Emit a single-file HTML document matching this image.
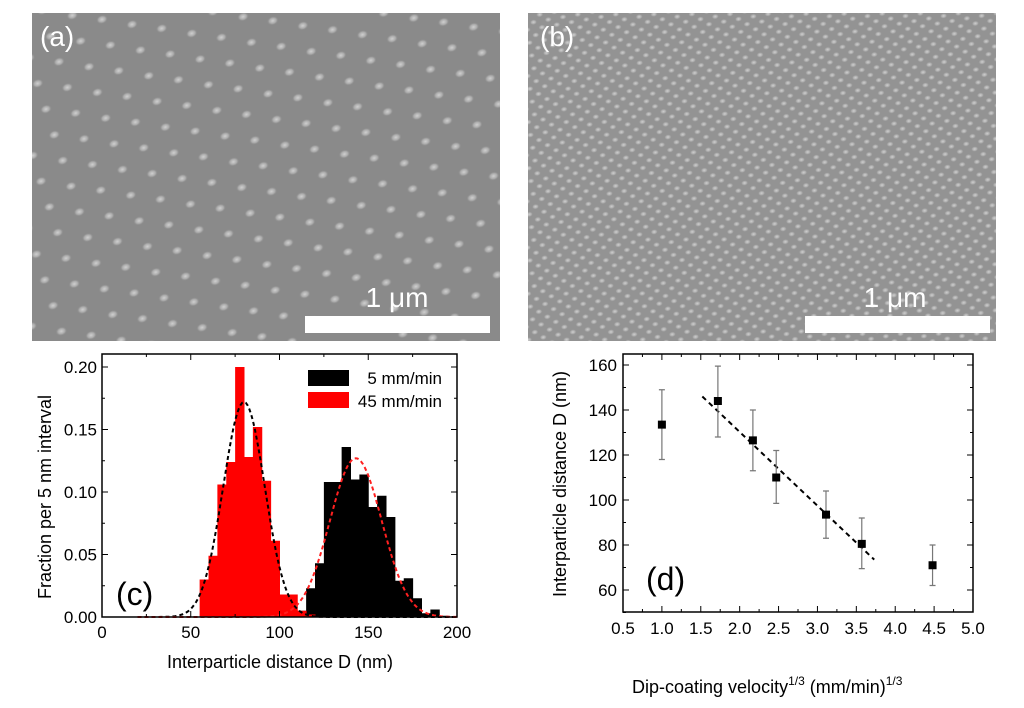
<!DOCTYPE html>
<html><head><meta charset="utf-8"><style>
body{margin:0;background:#fff;width:1024px;height:703px;overflow:hidden;font-family:"Liberation Sans",sans-serif}
svg text{font-family:"Liberation Sans",sans-serif}
</style></head><body>
<svg width="1024" height="703" xmlns="http://www.w3.org/2000/svg">
<defs>
<radialGradient id="dg"><stop offset="0" stop-color="#d0d0d0"/><stop offset="0.6" stop-color="#aaaaaa"/><stop offset="1" stop-color="#8a8a8a" stop-opacity="0"/></radialGradient>
<pattern id="pa" width="54" height="27" patternUnits="userSpaceOnUse" patternTransform="rotate(-18)">
<ellipse cx="10" cy="10" rx="6" ry="4.5" fill="url(#dg)"/><ellipse cx="37" cy="23" rx="6" ry="4.5" fill="url(#dg)"/></pattern>
<pattern id="pb" width="15" height="13" patternUnits="userSpaceOnUse" patternTransform="rotate(-10)">
<ellipse cx="4" cy="4" rx="4" ry="3" fill="url(#dg)"/><ellipse cx="11.5" cy="10.5" rx="4" ry="3" fill="url(#dg)"/></pattern>
</defs>
<g>
<rect x="32" y="13" width="468" height="328" fill="#8a8a8a"/>
<rect x="32" y="13" width="468" height="328" fill="url(#pa)"/>
<text x="40" y="46" font-size="28" fill="#fff">(a)</text>
<text x="397" y="307" font-size="28" fill="#fff" text-anchor="middle">1 μm</text>
<rect x="305" y="316" width="185" height="17" fill="#fff"/>
</g>
<g>
<rect x="528" y="13" width="468" height="328" fill="#939393"/>
<rect x="528" y="13" width="468" height="328" fill="url(#pb)"/>
<text x="540" y="46" font-size="28" fill="#fff">(b)</text>
<text x="895" y="307" font-size="28" fill="#fff" text-anchor="middle">1 μm</text>
<rect x="805" y="316" width="185" height="17" fill="#fff"/>
</g>
<g id="c"></g>
<g id="d"></g>
</svg>
<script>
const NS="http://www.w3.org/2000/svg";
function mk(p,t,a,txt){const e=document.createElementNS(NS,t);for(const k in a)e.setAttribute(k,a[k]);if(txt!==undefined)e.textContent=txt;p.appendChild(e);return e;}
// ---- chart c data ----
const redBinStarts=[55,60,65,70,75,80,85,90,95,100,105,110,115];
const redValues=[0.030,0.049,0.106,0.124,0.200,0.128,0.152,0.109,0.061,0.018,0.018,0.005,0.002];
const blackBinStarts=[110,115,120,125,130,135,140,145,150,155,160,165,170,175,180,185,190];
const blackValues=[0.005,0.023,0.043,0.108,0.108,0.136,0.110,0.114,0.088,0.097,0.080,0.029,0.031,0.015,0.003,0.006,0.001];
const cXTicks=[0,50,100,150,200];
const cYTicks=[0,0.05,0.10,0.15,0.20];
const fitRed=[80,0.172,11.7];
const fitBlack=[143,0.127,14.6];
// ---- chart d data ----
const dX=[1.0,1.72,2.17,2.47,3.11,3.57,4.48];
const dY=[133.5,144,126.5,110,93.5,80.5,71];
const dLo=[118,128,113,98.5,83,69.5,62];
const dHi=[149,159.5,140,122,104,92,80];
const dFit=[[1.52,146],[3.73,73.5]];
const dXTicks=[0.5,1.0,1.5,2.0,2.5,3.0,3.5,4.0,4.5,5.0];
const dYTicks=[60,80,100,120,140,160];

(function(){
const g=document.getElementById('c');
const L=102,R=457,T=354,B=617;
const x=v=>L+(v-0)/200*(R-L);
const y=v=>B-v/0.2*(B-367);
blackBinStarts.forEach((s,i)=>{const r=mk(g,'rect',{x:x(s),y:y(blackValues[i]),width:x(s+5)-x(s)+0.5,height:B-y(blackValues[i]),fill:'#000'});
});
redBinStarts.forEach((s,i)=>{const r=mk(g,'rect',{x:x(s),y:y(redValues[i]),width:x(s+5)-x(s)+0.5,height:B-y(redValues[i]),fill:'#ff0000'});
});
function gauss(f,col,name){let d='';for(let v=20;v<=200;v+=1){const val=f[1]*Math.exp(-Math.pow(v-f[0],2)/(2*f[2]*f[2]));d+=(v==20?'M':'L')+x(v).toFixed(1)+','+y(val).toFixed(1);}
const p=mk(g,'path',{d:d,fill:'none',stroke:col,'stroke-width':2,'stroke-dasharray':'4 3'});}
gauss(fitRed,'#000','fit-curve-45');gauss(fitBlack,'#ff2020','fit-curve-5');
mk(g,'rect',{x:L,y:T,width:R-L,height:B-T,fill:'none',stroke:'#000','stroke-width':1.5});
cXTicks.forEach(t=>{mk(g,'line',{x1:x(t),x2:x(t),y1:B,y2:B-6,stroke:'#000'});mk(g,'line',{x1:x(t),x2:x(t),y1:T,y2:T+6,stroke:'#000'});
const tx=mk(g,'text',{x:x(t),y:B+21,'font-size':17,'text-anchor':'middle'},String(t));});
for(let t=25;t<200;t+=50){mk(g,'line',{x1:x(t),x2:x(t),y1:B,y2:B-3,stroke:'#000'});mk(g,'line',{x1:x(t),x2:x(t),y1:T,y2:T+3,stroke:'#000'});}
cYTicks.forEach(t=>{mk(g,'line',{x1:L,x2:L+6,y1:y(t),y2:y(t),stroke:'#000'});mk(g,'line',{x1:R,x2:R-6,y1:y(t),y2:y(t),stroke:'#000'});
const tx=mk(g,'text',{x:L-5,y:y(t)+6,'font-size':17,'text-anchor':'end'},t.toFixed(2));});
for(let t=0.025;t<0.21;t+=0.05){mk(g,'line',{x1:L,x2:L+3,y1:y(t),y2:y(t),stroke:'#000'});mk(g,'line',{x1:R,x2:R-3,y1:y(t),y2:y(t),stroke:'#000'});}
let e=mk(g,'text',{x:280,y:668,'font-size':18,'text-anchor':'middle'},'Interparticle distance D  (nm)');
e=mk(g,'text',{x:0,y:0,'font-size':18,'text-anchor':'middle',transform:'translate(51,497) rotate(-90)'},'Fraction per 5 nm interval');
e=mk(g,'text',{x:116,y:605,'font-size':32},'(c)');
e=mk(g,'rect',{x:308,y:370,width:41,height:16,fill:'#000'});
e=mk(g,'rect',{x:308,y:392,width:41,height:16,fill:'#ff0000'});
e=mk(g,'text',{x:442,y:384,'font-size':17,'text-anchor':'end'},'5 mm/min');
e=mk(g,'text',{x:442,y:407,'font-size':17,'text-anchor':'end'},'45 mm/min');
})();
(function(){
const g=document.getElementById('d');
const L=623,R=973,T=354,B=612;
const x=v=>L+(v-0.5)/4.5*(R-L);
const y=v=>365+(160-v)/100*(590-365);
mk(g,'rect',{x:L,y:T,width:R-L,height:B-T,fill:'none',stroke:'#000','stroke-width':1.5});
dXTicks.forEach(t=>{mk(g,'line',{x1:x(t),x2:x(t),y1:B,y2:B-6,stroke:'#000'});mk(g,'line',{x1:x(t),x2:x(t),y1:T,y2:T+6,stroke:'#000'});
if(t<5){mk(g,'line',{x1:x(t+0.25),x2:x(t+0.25),y1:B,y2:B-3,stroke:'#000'});mk(g,'line',{x1:x(t+0.25),x2:x(t+0.25),y1:T,y2:T+3,stroke:'#000'});}
const tx=mk(g,'text',{x:x(t),y:B+22,'font-size':17,'text-anchor':'middle'},t.toFixed(1));});
dYTicks.forEach(t=>{mk(g,'line',{x1:L,x2:L+6,y1:y(t),y2:y(t),stroke:'#000'});mk(g,'line',{x1:R,x2:R-6,y1:y(t),y2:y(t),stroke:'#000'});
if(t<160){mk(g,'line',{x1:L,x2:L+3,y1:y(t+10),y2:y(t+10),stroke:'#000'});mk(g,'line',{x1:R,x2:R-3,y1:y(t+10),y2:y(t+10),stroke:'#000'});}
const tx=mk(g,'text',{x:L-6,y:y(t)+6,'font-size':17,'text-anchor':'end'},String(t));});
mk(g,'line',{x1:L,x2:L+3,y1:y(50),y2:y(50),stroke:'#000'});
let e=mk(g,'line',{x1:x(dFit[0][0]),y1:y(dFit[0][1]),x2:x(dFit[1][0]),y2:y(dFit[1][1]),stroke:'#000','stroke-width':2,'stroke-dasharray':'5 4'});

dX.forEach((v,i)=>{const cx=x(v);
const eb=mk(g,'path',{d:`M${cx},${y(dLo[i])}V${y(dHi[i])}M${cx-3},${y(dLo[i])}h6M${cx-3},${y(dHi[i])}h6`,stroke:'#777','stroke-width':1.2,fill:'none'});

const pt=mk(g,'rect',{x:cx-4,y:y(dY[i])-4,width:8,height:8,fill:'#000'});
});
e=mk(g,'text',{x:0,y:0,'font-size':18,'text-anchor':'middle',transform:'translate(566,484) rotate(-90)'},'Interparticle distance D  (nm)');
e=mk(g,'text',{x:646,y:590,'font-size':32},'(d)');
const t=mk(g,'text',{x:632,y:693,'font-size':18});
mk(t,'tspan',{},'Dip-coating velocity');mk(t,'tspan',{dy:-8,'font-size':12},'1/3');mk(t,'tspan',{dy:8},'  (mm/min)');mk(t,'tspan',{dy:-8,'font-size':12},'1/3');
})();
</script>
</body></html>
